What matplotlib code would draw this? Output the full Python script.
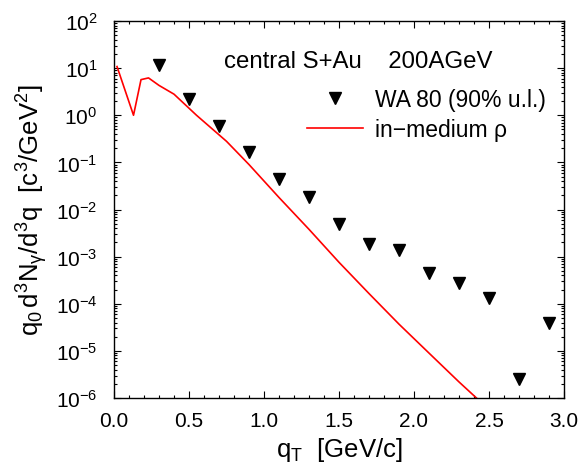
import matplotlib
matplotlib.use("Agg")
import matplotlib.pyplot as plt
from matplotlib.ticker import MultipleLocator, LogLocator, FixedLocator, FixedFormatter, NullFormatter
from matplotlib.legend_handler import HandlerLine2D
import numpy as np

plt.rcParams['font.family'] = ['Liberation Sans', 'DejaVu Sans']
plt.rcParams['mathtext.fontset'] = 'custom'
plt.rcParams['mathtext.rm'] = 'Liberation Sans'
plt.rcParams['mathtext.it'] = 'Liberation Sans'

# WA80 upper limits (90% u.l.)
wa80_qt = [0.3, 0.5, 0.7, 0.9, 1.1, 1.3, 1.5, 1.7, 1.9, 2.1, 2.3, 2.5, 2.7, 2.9]
wa80_val = [11.5, 2.2, 0.59, 0.166, 0.044, 0.018, 0.0049, 0.0019, 0.0014,
            4.5e-4, 2.7e-4, 1.3e-4, 2.5e-6, 3.9e-5]

# in-medium rho calculation
rho_qt = [0.02, 0.13, 0.18, 0.23, 0.3, 0.4, 0.55, 0.75, 0.9, 1.1, 1.3, 1.5,
          1.7, 1.9, 2.1, 2.3, 2.45]
rho_val = [10.8, 1.0, 5.7, 6.2, 4.3, 2.8, 1.0, 0.28, 0.09, 0.018, 3.8e-3,
           7.6e-4, 1.65e-4, 3.7e-5, 9.0e-6, 2.2e-6, 8.0e-7]

ytick_vals = [1e-6, 1e-5, 1e-4, 1e-3, 1e-2, 1e-1, 1e0, 1e1, 1e2]
ytick_labels = [r'$\mathregular{10^{-6}}$', r'$\mathregular{10^{-5}}$',
                r'$\mathregular{10^{-4}}$', r'$\mathregular{10^{-3}}$',
                r'$\mathregular{10^{-2}}$', r'$\mathregular{10^{-1}}$',
                r'$\mathregular{10^{0}}$', r'$\mathregular{10^{1}}$',
                r'$\mathregular{10^{2}}$']
xtick_vals = [0.0, 0.5, 1.0, 1.5, 2.0, 2.5, 3.0]
xtick_labels = ['0.0', '0.5', '1.0', '1.5', '2.0', '2.5', '3.0']


class RightMarkerHandler(HandlerLine2D):
    def get_xdata(self, legend, xdescent, ydescent, width, height, fontsize):
        xdata = [-xdescent, -xdescent + width]
        xdata_marker = [-xdescent + width]
        return xdata, xdata_marker


fig = plt.figure(figsize=(5.82, 4.64), dpi=100)
ax = fig.add_axes([0.1959, 0.140, 0.7731, 0.8126])

rho_line, = ax.plot(rho_qt, rho_val, color='#ff0000', lw=1.2,
                    label='in\u2212medium \u03c1', zorder=2)
wa_pts, = ax.plot(wa80_qt, wa80_val, linestyle='none', marker='v', color='black',
                  markersize=8.5, label='WA 80 (90% u.l.)', zorder=3)

ax.set_yscale('log')
ax.set_xlim(0, 3.0)
ax.set_ylim(1e-6, 1e2)

ax.xaxis.set_major_locator(FixedLocator(xtick_vals))
ax.xaxis.set_major_formatter(FixedFormatter(xtick_labels))
ax.xaxis.set_minor_locator(MultipleLocator(0.1))
ax.yaxis.set_major_locator(FixedLocator(ytick_vals))
ax.yaxis.set_major_formatter(FixedFormatter(ytick_labels))
ax.yaxis.set_minor_locator(LogLocator(base=10, subs=np.arange(2, 10), numticks=20))
ax.yaxis.set_minor_formatter(NullFormatter())

ax.tick_params(which='both', direction='in', top=True, right=True, labelsize=15,
               width=0.8)
ax.tick_params(which='major', length=5)
ax.tick_params(which='minor', length=2.5)
ax.tick_params(axis='x', pad=9)
ax.tick_params(axis='y', pad=12)
for s in ax.spines.values():
    s.set_linewidth(1.0)

ax.set_xlabel(r'$\mathregular{q_T}$  [GeV/c]', fontsize=18.5, labelpad=4)
ax.set_ylabel(r'$\mathregular{q_0\,d^3N_\gamma/d^3q}$  $\mathregular{[c^3/GeV^2]}$',
              fontsize=18.5, labelpad=4)

ax.text(0.542, 0.894, 'central S+Au    200AGeV', transform=ax.transAxes,
        fontsize=17.3, ha='center', va='center')

leg = ax.legend([wa_pts, rho_line], ['WA 80 (90% u.l.)', 'in\u2212medium \u03c1'],
                loc='center left', bbox_to_anchor=(0.429, 0.752), frameon=False,
                fontsize=16.5, handlelength=2.45, handletextpad=0.52, numpoints=1,
                borderaxespad=0, borderpad=0, labelspacing=0.3,
                handler_map={wa_pts: RightMarkerHandler()})

fig.savefig('out.png', dpi=100)
